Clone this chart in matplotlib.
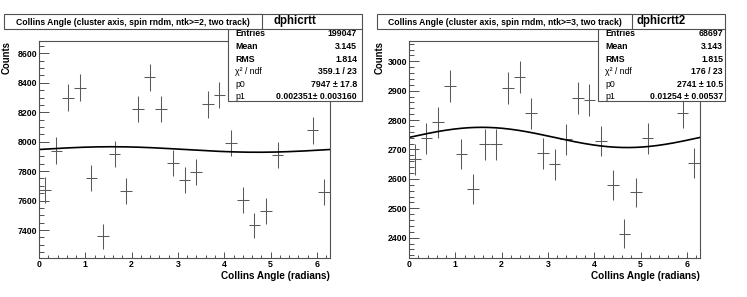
import numpy as np
import matplotlib
matplotlib.use("Agg")
import matplotlib.pyplot as plt
from matplotlib.patches import Rectangle
from matplotlib.lines import Line2D
from matplotlib.ticker import MultipleLocator

plt.rcParams['font.family'] = ['Liberation Sans', 'DejaVu Sans']

# canvas size in pixels
W, H = 747, 297

# 25 bins over 0..2pi
n_bins = 25
bin_edges = np.linspace(0, 2 * np.pi, n_bins + 1)

# counts (bins 21, 22 sit behind the stats box)
counts_ntk2 = [7670, 7940, 8299, 8366, 7751, 7357, 7914, 7663, 8222, 8437,
               8222, 7853, 7738, 7793, 8254, 8317, 7989, 7602, 7432, 7529,
               7909, 8540, 8517, 8077, 7656]
counts_ntk3 = [2666, 2738, 2792, 2917, 2684, 2565, 2717, 2717, 2908, 2945,
               2823, 2687, 2649, 2735, 2876, 2868, 2729, 2579, 2413, 2554,
               2738, 2950, 2969, 2825, 2653]

# fit parameters: p0 * (1 + p1 * sin(x))
fit_ntk2 = (7947, 0.002351)
fit_ntk3 = (2741, 0.01254)

titles = ["Collins Angle (cluster axis, spin rndm, ntk>=2, two track)",
          "Collins Angle (cluster axis, spin rndm, ntk>=3, two track)"]
hist_names = ["dphicrtt", "dphicrtt2"]
stat_labels = ["Entries", "Mean", "RMS", "\u03c7\u00b2 / ndf", "p0", "p1"]
stat_values_ntk2 = ["199047", "3.145", "1.814", "359.1 / 23", "7947 \u00b1 17.8", "0.002351\u00b1 0.003160"]
stat_values_ntk3 = ["68697", "3.143", "1.815", "176 / 23", "2741 \u00b1 10.5", "0.01254 \u00b1 0.00537"]
yticks_ntk2 = [7400, 7600, 7800, 8000, 8200, 8400, 8600]
yticks_ntk3 = [2400, 2500, 2600, 2700, 2800, 2900, 3000]

panels = [
    dict(counts=counts_ntk2, fit=fit_ntk2, title=titles[0], name=hist_names[0],
         values=stat_values_ntk2, yticks=yticks_ntk2, ylim=(7212, 8686), yminor=50,
         ax_px=(39, 330), title_px=(4, 262), stats_px=(228, 362),
         lab_x=235, val_x=357, ylab_x=7),
    dict(counts=counts_ntk3, fit=fit_ntk3, title=titles[1], name=hist_names[1],
         values=stat_values_ntk3, yticks=yticks_ntk3, ylim=(2332, 3070), yminor=20,
         ax_px=(409, 700), title_px=(377, 632), stats_px=(598, 725),
         lab_x=605, val_x=723, ylab_x=380),
]

fig = plt.figure(figsize=(W / 100, H / 100), dpi=100)

def fx(x):
    return x / W

def fy(y):
    return 1 - y / H

frame_col = '#505050'
ax_top, ax_bot = 40.7, 257.7

for p in panels:
    x0, x1 = p['ax_px']
    ax = fig.add_axes([fx(x0), fy(ax_bot), (x1 - x0) / W, (ax_bot - ax_top) / H])
    counts = np.array(p['counts'], dtype=float)
    centers = 0.5 * (bin_edges[:-1] + bin_edges[1:])
    half = 0.5 * np.diff(bin_edges)
    ax.errorbar(centers, counts, xerr=half, yerr=np.sqrt(counts), fmt='none',
                ecolor='#5a5a5a', elinewidth=0.75, capsize=0)
    xs = np.linspace(0, 2 * np.pi, 300)
    p0, p1 = p['fit']
    ax.plot(xs, p0 * (1 + p1 * np.sin(xs)), color='black', lw=1.2)

    ax.set_xlim(0, 2 * np.pi)
    ax.set_ylim(*p['ylim'])
    ax.set_xticks([0, 1, 2, 3, 4, 5, 6])
    ax.xaxis.set_minor_locator(MultipleLocator(0.2))
    ax.set_yticks(p['yticks'])
    ax.yaxis.set_minor_locator(MultipleLocator(p['yminor']))
    ax.tick_params(axis='both', which='both', direction='in', colors=frame_col,
                   labelcolor='black', labelsize=6.3, width=0.7)
    ax.tick_params(axis='y', which='major', length=7.2, pad=1.0)
    ax.tick_params(axis='y', which='minor', length=3.4)
    ax.tick_params(axis='x', which='major', length=4.3, pad=2.0)
    ax.tick_params(axis='x', which='minor', length=2.2)
    for lab in ax.get_xticklabels() + ax.get_yticklabels():
        lab.set_fontweight('bold')
    for s in ax.spines.values():
        s.set_color(frame_col)
        s.set_linewidth(0.8)

    # axis titles
    fig.text(fx(x1), fy(276.3), "Collins Angle (radians)", ha='right', va='center',
             fontsize=7.2, fontweight='bold')
    fig.text(fx(p['ylab_x']), fy(ax_top), "Counts", rotation=90, ha='center', va='top',
             fontsize=6.9, fontweight='bold')

    # stats box
    sx0, sx1 = p['stats_px']
    fig.add_artist(Rectangle((fx(sx0), fy(101)), (sx1 - sx0) / W, (101 - 14) / H,
                             transform=fig.transFigure, facecolor='white',
                             edgecolor=frame_col, lw=0.8, zorder=5))
    fig.add_artist(Line2D([fx(sx0), fx(sx1)], [fy(29.3), fy(29.3)],
                          transform=fig.transFigure, color=frame_col, lw=0.8, zorder=6))
    fig.text(fx(0.5 * (sx0 + sx1)), fy(21), p['name'], ha='center', va='center',
             fontsize=8.3, fontweight='bold', zorder=7)
    row_y = [34, 46.6, 59.3, 71.9, 84.4, 96.4]
    for i, (lab, val) in enumerate(zip(stat_labels, p['values'])):
        fig.text(fx(p['lab_x']), fy(row_y[i]), lab, ha='left', va='center',
                 fontsize=6.3, fontweight='bold' if i < 3 else 'normal', zorder=7)
        fig.text(fx(p['val_x']), fy(row_y[i]), val, ha='right', va='center',
                 fontsize=6.3, fontweight='bold', zorder=7)

    # title box, drawn over the stats header
    tx0, tx1 = p['title_px']
    fig.add_artist(Rectangle((fx(tx0), fy(29.3)), (tx1 - tx0) / W, (29.3 - 14) / H,
                             transform=fig.transFigure, facecolor='white',
                             edgecolor=frame_col, lw=0.8, zorder=8))
    fig.text(fx(0.5 * (tx0 + tx1)), fy(22.3), p['title'], ha='center', va='center',
             fontsize=6.2, fontweight='bold', zorder=9)

fig.savefig("out.png", dpi=100)
